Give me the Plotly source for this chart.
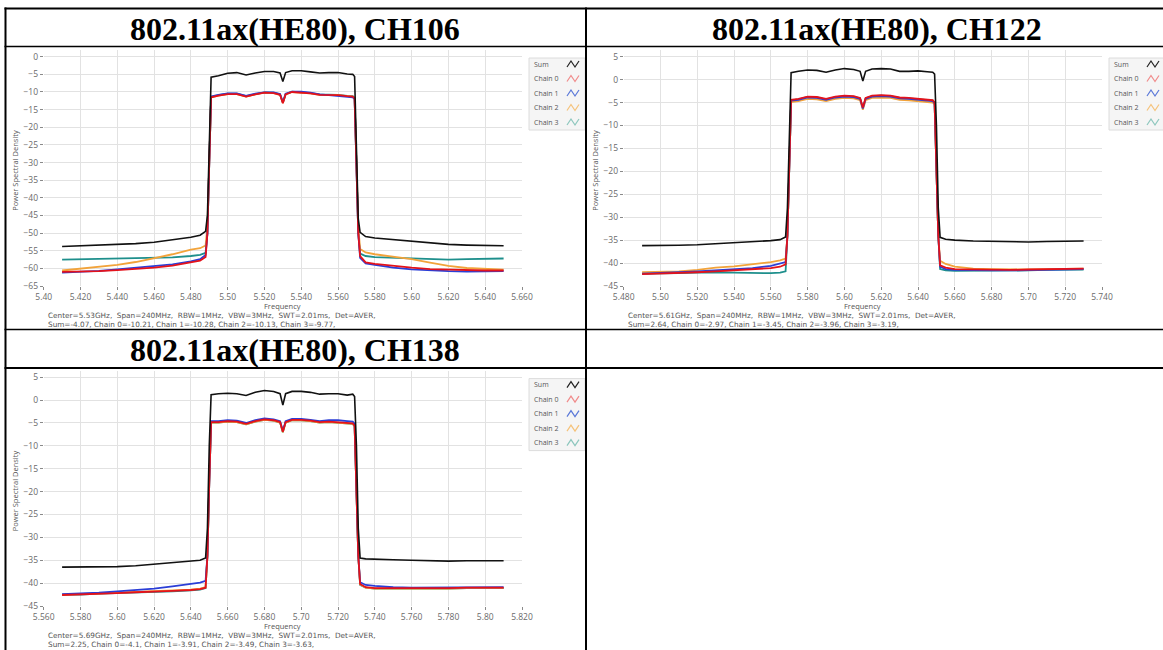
import plotly.graph_objects as go

W, H = 1163, 650

# Frequency offsets (MHz) from the channel centre at which each trace is sampled
offsets_mhz = [-120, -110, -100, -90, -80, -70, -60, -50, -45, -42,
               -41, -40,
               -39, -35, -30, -25, -20, -15, -10, -5, -1.5, 0, 1.5, 5, 10, 15, 20, 25, 30, 35, 38, 39,
               40, 41,
               42, 45, 50, 60, 70, 80, 90, 100, 110, 120]

series_names = ["Sum", "Chain 0", "Chain 1", "Chain 2", "Chain 3"]
series_colors = ["#111111", "#e3121b", "#2b3ed6", "#f2a33a", "#1e8f8c"]
legend_icon_colors = ["#222222", "#f08a8a", "#5a78d8", "#f5c27a", "#8cc6bd"]

# ---- CH106 ----
ch106_center = 5.53
ch106_sum = [-53.8, -53.6, -53.5, -53.3, -53.0, -52.6, -52.0, -51.2, -50.6, -49.5,
             -45, -25,
             -5.8, -5.4, -4.7, -4.5, -5.2, -4.6, -4.2, -4.2, -4.6, -7.0, -4.5, -4.0, -4.0, -4.3, -4.6, -4.5, -4.5, -4.9, -5.0, -5.6,
             -25, -46,
             -49.8, -51.0, -51.4, -51.9, -52.4, -52.9, -53.2, -53.4, -53.5, -53.6]
ch106_chain0 = [-61.0, -61.0, -60.8, -60.5, -60.2, -59.8, -59.2, -58.3, -57.8, -56.8,
                -50, -30,
                -11.5, -11.0, -10.6, -10.6, -11.3, -10.7, -10.2, -10.3, -10.8, -13.2, -10.7, -10.0, -10.1, -10.4, -10.8, -10.8, -10.9, -11.2, -11.3, -11.8,
                -30, -50,
                -56.5, -58.3, -58.7, -59.3, -59.8, -60.2, -60.4, -60.6, -60.6, -60.6]
ch106_chain1 = [-61.2, -61.0, -60.7, -60.3, -59.9, -59.5, -58.9, -58.0, -57.4, -56.2,
                -50, -30,
                -11.3, -10.8, -10.4, -10.4, -11.1, -10.5, -10.1, -10.1, -10.6, -12.9, -10.5, -9.9, -9.9, -10.2, -10.7, -10.9, -11.1, -11.4, -11.5, -12.0,
                -30, -50,
                -57.0, -58.6, -59.0, -59.8, -60.3, -60.6, -60.8, -60.9, -60.8, -60.8]
ch106_chain2 = [-60.6, -60.1, -59.6, -59.0, -58.2, -57.2, -56.0, -54.7, -54.3, -53.5,
                -48, -30,
                -11.5, -11.0, -10.6, -10.6, -11.3, -10.7, -10.2, -10.3, -10.8, -13.1, -10.7, -10.0, -10.1, -10.4, -10.8, -10.8, -10.9, -11.2, -11.3, -11.8,
                -30, -48,
                -54.5, -55.5, -56.0, -56.7, -57.4, -58.4, -59.3, -59.9, -60.2, -60.4]
ch106_chain3 = [-57.5, -57.4, -57.4, -57.2, -57.2, -57.1, -56.9, -56.5, -56.2, -55.6,
                -50, -30,
                -11.4, -10.9, -10.5, -10.5, -11.2, -10.6, -10.1, -10.2, -10.7, -13.0, -10.6, -9.9, -10.0, -10.3, -10.7, -10.7, -10.8, -11.1, -11.2, -11.7,
                -30, -50,
                -55.8, -56.5, -56.8, -57.0, -57.3, -57.5, -57.5, -57.4, -57.3, -57.2]
ch106_xticks = [5.40, 5.42, 5.44, 5.46, 5.48, 5.50, 5.52, 5.54, 5.56, 5.58, 5.60, 5.62, 5.64, 5.66]
ch106_xticktext = ["5.40", "5.420", "5.440", "5.460", "5.480", "5.50", "5.520", "5.540",
                   "5.560", "5.580", "5.60", "5.620", "5.640", "5.660"]
ch106_yticks = [0, -5, -10, -15, -20, -25, -30, -35, -40, -45, -50, -55, -60, -65]
ch106_info = ["Center=5.53GHz,\u00a0 Span=240MHz,\u00a0 RBW=1MHz,\u00a0 VBW=3MHz,\u00a0 SWT=2.01ms,\u00a0 Det=AVER,",
              "Sum=-4.07, Chain 0=-10.21, Chain 1=-10.28, Chain 2=-10.13, Chain 3=-9.77,"]

# ---- CH122 ----
ch122_center = 5.61
ch122_sum = [-36.2, -36.2, -36.1, -36.0, -35.8, -35.6, -35.4, -35.1, -34.9, -34.3,
             -28, -10,
             1.5, 1.8, 2.1, 2.0, 1.6, 2.1, 2.4, 2.2, 1.8, -0.3, 1.8, 2.3, 2.4, 2.3, 1.8, 1.8, 1.9, 1.7, 1.6, 1.2,
             -10, -28,
             -34.4, -34.8, -35.0, -35.2, -35.3, -35.4, -35.4, -35.3, -35.2, -35.2]
ch122_chain0 = [-42.4, -42.3, -42.1, -42.0, -41.8, -41.6, -41.4, -41.1, -40.8, -40.3,
                -34, -18,
                -4.4, -4.2, -3.7, -3.8, -4.2, -3.7, -3.5, -3.6, -4.0, -6.1, -4.0, -3.5, -3.4, -3.5, -3.9, -4.0, -4.2, -4.4, -4.5, -5.0,
                -18, -34,
                -40.5, -41.0, -41.3, -41.4, -41.5, -41.5, -41.4, -41.3, -41.2, -41.2]
ch122_chain1 = [-42.3, -42.2, -42.0, -41.8, -41.6, -41.4, -41.1, -40.6, -40.2, -39.8,
                -34, -18,
                -4.6, -4.4, -3.9, -4.0, -4.4, -3.9, -3.7, -3.8, -4.2, -6.3, -4.2, -3.7, -3.6, -3.7, -4.1, -4.2, -4.4, -4.6, -4.7, -5.2,
                -18, -34,
                -40.8, -41.3, -41.5, -41.6, -41.6, -41.6, -41.5, -41.4, -41.3, -41.3]
ch122_chain2 = [-42.0, -41.9, -41.8, -41.5, -41.0, -40.7, -40.3, -39.8, -39.4, -39.0,
                -34, -18,
                -4.9, -4.7, -4.2, -4.3, -4.7, -4.2, -4.0, -4.1, -4.5, -6.6, -4.5, -4.0, -3.9, -4.0, -4.4, -4.5, -4.7, -4.9, -5.0, -5.5,
                -18, -34,
                -39.5, -40.2, -40.8, -41.2, -41.3, -41.4, -41.4, -41.3, -41.2, -41.2]
ch122_chain3 = [-42.3, -42.3, -42.2, -42.1, -42.0, -42.1, -42.2, -42.2, -42.1, -41.8,
                -34, -18,
                -4.5, -4.3, -3.8, -3.9, -4.3, -3.8, -3.6, -3.7, -4.1, -6.2, -4.1, -3.6, -3.5, -3.6, -4.0, -4.1, -4.3, -4.5, -4.6, -5.1,
                -18, -34,
                -41.3, -41.6, -41.7, -41.7, -41.7, -41.6, -41.6, -41.5, -41.4, -41.4]
ch122_xticks = [5.48, 5.50, 5.52, 5.54, 5.56, 5.58, 5.60, 5.62, 5.64, 5.66, 5.68, 5.70, 5.72, 5.74]
ch122_xticktext = ["5.480", "5.50", "5.520", "5.540", "5.560", "5.580", "5.60", "5.620",
                   "5.640", "5.660", "5.680", "5.70", "5.720", "5.740"]
ch122_yticks = [5, 0, -5, -10, -15, -20, -25, -30, -35, -40, -45]
ch122_info = ["Center=5.61GHz,\u00a0 Span=240MHz,\u00a0 RBW=1MHz,\u00a0 VBW=3MHz,\u00a0 SWT=2.01ms,\u00a0 Det=AVER,",
              "Sum=2.64, Chain 0=-2.97, Chain 1=-3.45, Chain 2=-3.96, Chain 3=-3.19,"]

# ---- CH138 ----
ch138_center = 5.69
ch138_sum = [-36.5, -36.5, -36.4, -36.4, -36.2, -35.9, -35.6, -35.3, -35.0, -34.5,
             -28, -10,
             1.2, 1.4, 1.5, 1.4, 1.0, 1.7, 2.1, 1.9, 1.4, -1.1, 1.4, 1.9, 1.9, 1.7, 1.3, 1.4, 1.4, 1.1, 1.3, 0.8,
             -10, -28,
             -34.5, -34.7, -34.8, -34.9, -35.0, -35.1, -35.2, -35.1, -35.1, -35.1]
ch138_chain0 = [-42.6, -42.5, -42.4, -42.2, -42.0, -41.9, -41.7, -41.5, -41.3, -41.0,
                -34, -18,
                -4.8, -4.8, -4.6, -4.7, -5.2, -4.6, -4.2, -4.4, -4.8, -6.9, -4.8, -4.3, -4.3, -4.5, -4.8, -4.7, -4.8, -5.0, -5.1, -5.6,
                -18, -34,
                -40.2, -40.9, -41.1, -41.1, -41.2, -41.2, -41.1, -41.0, -41.0, -41.0]
ch138_chain1 = [-42.4, -42.3, -42.1, -41.8, -41.5, -41.2, -40.7, -40.2, -39.9, -39.5,
                -34, -18,
                -4.6, -4.6, -4.4, -4.5, -5.0, -4.4, -4.0, -4.2, -4.6, -6.7, -4.6, -4.1, -4.1, -4.3, -4.6, -4.4, -4.4, -4.6, -4.7, -5.2,
                -18, -34,
                -39.8, -40.4, -40.6, -40.9, -41.0, -41.0, -41.0, -40.9, -40.9, -40.9]
ch138_chain2 = [-42.5, -42.4, -42.3, -42.1, -41.9, -41.8, -41.6, -41.4, -41.2, -40.9,
                -34, -18,
                -4.9, -4.9, -4.7, -4.8, -5.3, -4.7, -4.3, -4.5, -4.9, -7.0, -4.9, -4.4, -4.4, -4.6, -4.9, -4.8, -4.9, -5.1, -5.2, -5.7,
                -18, -34,
                -40.3, -41.0, -41.2, -41.2, -41.3, -41.3, -41.2, -41.1, -41.1, -41.1]
ch138_chain3 = [-42.5, -42.5, -42.3, -42.2, -42.0, -41.9, -41.8, -41.6, -41.4, -41.1,
                -34, -18,
                -4.9, -4.9, -4.7, -4.8, -5.3, -4.7, -4.3, -4.5, -4.9, -7.0, -4.9, -4.4, -4.4, -4.6, -4.9, -4.8, -4.9, -5.1, -5.2, -5.7,
                -18, -34,
                -40.4, -41.0, -41.2, -41.2, -41.3, -41.3, -41.2, -41.1, -41.1, -41.1]
ch138_xticks = [5.56, 5.58, 5.60, 5.62, 5.64, 5.66, 5.68, 5.70, 5.72, 5.74, 5.76, 5.78, 5.80, 5.82]
ch138_xticktext = ["5.560", "5.580", "5.60", "5.620", "5.640", "5.660", "5.680", "5.70",
                   "5.720", "5.740", "5.760", "5.780", "5.80", "5.820"]
ch138_yticks = [5, 0, -5, -10, -15, -20, -25, -30, -35, -40, -45]
ch138_info = ["Center=5.69GHz,\u00a0 Span=240MHz,\u00a0 RBW=1MHz,\u00a0 VBW=3MHz,\u00a0 SWT=2.01ms,\u00a0 Det=AVER,",
              "Sum=2.25, Chain 0=-4.1, Chain 1=-3.91, Chain 2=-3.49, Chain 3=-3.63,"]

titles = ["802.11ax(HE80), CH106", "802.11ax(HE80), CH122", "802.11ax(HE80), CH138"]


def fx(px):
    return px / W


def fy(py):
    return 1 - py / H


panels = [
    dict(title=titles[0], center=ch106_center,
         data=[ch106_sum, ch106_chain0, ch106_chain1, ch106_chain2, ch106_chain3],
         xticks=ch106_xticks, xticktext=ch106_xticktext, yticks=ch106_yticks,
         yrange=[-65, 1.9], info=ch106_info,
         cell_x=5, cell_w=581, cell_top=8.5, head_bottom=46.5, px_left=43.7, plot_top=50, plot_bottom=286),
    dict(title=titles[1], center=ch122_center,
         data=[ch122_sum, ch122_chain0, ch122_chain1, ch122_chain2, ch122_chain3],
         xticks=ch122_xticks, xticktext=ch122_xticktext, yticks=ch122_yticks,
         yrange=[-45, 6.45], info=ch122_info,
         cell_x=586, cell_w=582, cell_top=8.5, head_bottom=46.5, px_left=623.7, plot_top=50, plot_bottom=286),
    dict(title=titles[2], center=ch138_center,
         data=[ch138_sum, ch138_chain0, ch138_chain1, ch138_chain2, ch138_chain3],
         xticks=ch138_xticks, xticktext=ch138_xticktext, yticks=ch138_yticks,
         yrange=[-45, 6.45], info=ch138_info,
         cell_x=5, cell_w=581, cell_top=329.5, head_bottom=368, px_left=43.7, plot_top=370.6, plot_bottom=606),
]

PLOT_W = 478.3
sans = "Open Sans, DejaVu Sans, sans-serif"
label_font = dict(family=sans, size=8.5, color="#6a6a6a")

fig = go.Figure()
annotations = []
shapes = []
layout_axes = {}

for i, p in enumerate(panels):
    n = "" if i == 0 else str(i + 1)
    xa, ya = "x" + n, "y" + n
    freqs = [p["center"] + o / 1000.0 for o in offsets_mhz]

    # draw chains underneath, sum on top
    for k in [4, 3, 2, 1, 0]:
        fig.add_trace(go.Scatter(
            x=freqs, y=p["data"][k], mode="lines", name=series_names[k],
            line=dict(color=series_colors[k], width=1.8 if k else 1.6),
            xaxis=xa, yaxis=ya, showlegend=False, hoverinfo="skip"))

    x0 = p["px_left"]
    x1 = x0 + PLOT_W
    layout_axes["xaxis" + n] = dict(
        domain=[fx(x0), fx(x1)], range=[p["xticks"][0], p["xticks"][-1]], anchor=ya,
        tickmode="array", tickvals=p["xticks"], ticktext=p["xticktext"], automargin=False,
        showgrid=True, gridcolor="#e2e2e2", gridwidth=1, zeroline=False, showline=False,
        ticks="outside", ticklen=3, tickcolor="#8a8a8a", tickfont=label_font)
    layout_axes["yaxis" + n] = dict(
        domain=[fy(p["plot_bottom"]), fy(p["plot_top"])], range=p["yrange"], anchor=xa,
        tickmode="array", tickvals=p["yticks"], automargin=False,
        showgrid=True, gridcolor="#e2e2e2", gridwidth=1, zeroline=False, showline=False,
        ticks="outside", ticklen=3, tickcolor="#8a8a8a", tickfont=label_font)

    # cell header
    annotations.append(dict(
        text="<b>" + p["title"] + "</b>", x=fx(p["cell_x"] + p["cell_w"] / 2),
        y=fy((p["cell_top"] + p["head_bottom"]) / 2 + 1), xref="paper", yref="paper",
        showarrow=False, xanchor="center", yanchor="middle",
        font=dict(family="Liberation Serif, Times New Roman, serif", size=32, color="#000000")))

    bottom = p["plot_bottom"]
    annotations.append(dict(
        text="Power Spectral Density", textangle=-90, x=fx(x0 - 29), y=fy(p["plot_top"] + 120),
        xref="paper", yref="paper", showarrow=False, xanchor="center", yanchor="middle",
        font=dict(family=sans, size=7.5, color="#555555")))
    annotations.append(dict(
        text="Frequency", x=fx((x0 + x1) / 2), y=fy(bottom + 14), xref="paper", yref="paper",
        showarrow=False, xanchor="center", yanchor="top", borderpad=0,
        font=dict(family=sans, size=7.5, color="#555555")))
    annotations.append(dict(
        text="<br>".join(p["info"]), x=fx(x0 + 3.5), y=fy(bottom + 23.5), xref="paper", yref="paper",
        showarrow=False, xanchor="left", yanchor="top", align="left", borderpad=0,
        font=dict(family="DejaVu Sans, sans-serif", size=7.3, color="#555555")))

    # legend box with labels and zig-zag icons
    ltop = p["plot_top"] + 8
    lx = x1 + 7
    shapes.append(dict(type="rect", xref="paper", yref="paper",
                       x0=fx(lx), x1=fx(min(lx + 56, W + 2)), y0=fy(ltop), y1=fy(ltop + 72),
                       fillcolor="#f5f5f5", line=dict(color="#dcdcdc", width=1), layer="below"))
    for k in range(5):
        ry = ltop + 6 + 14.5 * k
        annotations.append(dict(
            text=series_names[k], x=fx(lx + 4), y=fy(ry), xref="paper", yref="paper",
            showarrow=False, xanchor="left", yanchor="middle", borderpad=0,
            font=dict(family=sans, size=7, color="#555555")))
        ix = lx + 38
        pts = [(ix, ry + 3), (ix + 4, ry - 3), (ix + 8, ry + 3), (ix + 12, ry - 3)]
        path = "M " + " L ".join(f"{fx(a):.5f},{fy(b):.5f}" for a, b in pts)
        shapes.append(dict(type="path", xref="paper", yref="paper", path=path,
                           line=dict(color=legend_icon_colors[k], width=1.2)))


# table ruling
def hline(y, x0, x1, w):
    shapes.append(dict(type="line", xref="paper", yref="paper", x0=fx(x0), x1=fx(x1),
                       y0=fy(y), y1=fy(y), line=dict(color="#000000", width=w)))


def vline(x, y0, y1, w):
    shapes.append(dict(type="line", xref="paper", yref="paper", x0=fx(x), x1=fx(x),
                       y0=fy(y0), y1=fy(y1), line=dict(color="#000000", width=w)))


hline(8.5, 4.5, W + 2, 2)
hline(46.5, 4.5, W + 2, 1.5)
hline(329.5, 4.5, W + 2, 1.5)
hline(368, 4.5, W + 2, 2)
vline(5.5, 7.5, H + 2, 2)
vline(586, 7.5, H + 2, 2)

fig.update_layout(
    width=W, height=H, margin=dict(l=0, r=0, t=0, b=0, autoexpand=False),
    paper_bgcolor="#ffffff", plot_bgcolor="#ffffff",
    showlegend=False, annotations=annotations, shapes=shapes, **layout_axes)

fig.write_html("out.html")
